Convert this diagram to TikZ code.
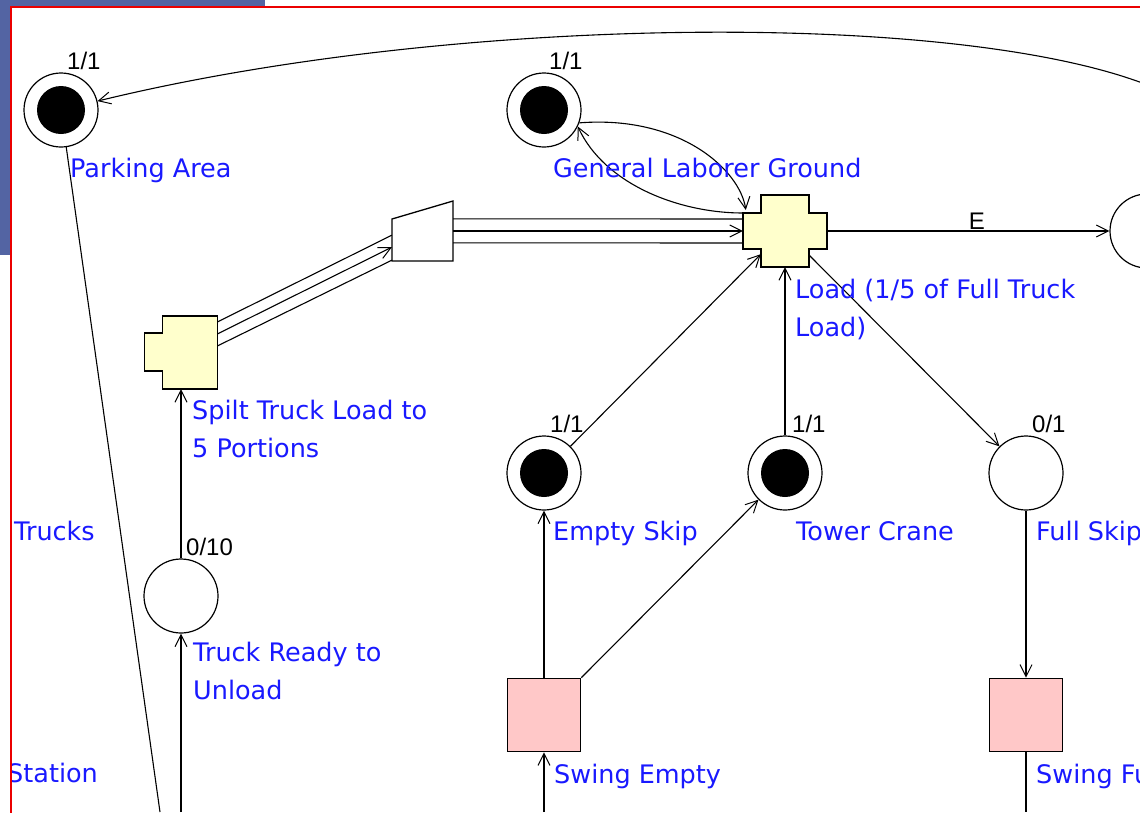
\documentclass[tikz,border=0pt]{standalone}
\usepackage{fontspec}
\setmainfont{DejaVu Sans}
\newfontfamily\numfont{Liberation Sans}
\usetikzlibrary{arrows.meta,calc}
\definecolor{lblblue}{RGB}{25,25,255}
\definecolor{bgblue}{RGB}{83,100,163}
\definecolor{tyellow}{RGB}{255,255,204}
\definecolor{tpink}{RGB}{255,200,200}
\definecolor{framered}{RGB}{235,0,0}
\begin{document}
\begin{tikzpicture}[x=1pt,y=-1pt,
  place/.style={circle,draw,line width=1.2pt,minimum size=74pt,inner sep=0pt,fill=white},
  marked/.style={place,path picture={\fill[black] (path picture bounding box.center) circle (24pt);}},
  swing/.style={rectangle,draw,line width=1.6pt,fill=tpink,minimum size=73pt,inner sep=0pt},
  shapebox/.style={rectangle,inner sep=0pt},
  transfill/.style={draw,line width=1.6pt,fill=tyellow,line join=miter},
  arc/.style={line width=1.1pt},
  arr/.style={arc,-{Straight Barb[length=12pt,width=12pt,line width=1pt]}},
  lbl/.style={text=lblblue,font=\fontsize{25.5}{38}\selectfont,anchor=base west,inner sep=0pt,align=left},
  num/.style={font=\numfont\fontsize{24}{28}\selectfont,anchor=base west,inner sep=0pt}]
\useasboundingbox (0,0) rectangle (1140,812);
\fill[bgblue] (0,0) rectangle (265,255);
\fill[white] (11,7) rectangle (1150,820);
\begin{scope}
\clip (11,7) rectangle (1140,812);
% places
\node[marked] (park) at (61,110) {};
\node[marked] (glg) at (544,110) {};
\node[marked] (eskip) at (544,473) {};
\node[marked] (tcrane) at (785,473) {};
\node[place] (fskip) at (1026,473) {};
\node[place] (tready) at (181,596) {};
\node[place] (eplace) at (1147,231) {};
% transitions
\node[swing] (sempty) at (544,715) {};
\node[swing] (sfull) at (1026,715) {};
\node[shapebox,minimum width=84pt,minimum height=72pt] (load) at (785,231) {};
\draw[transfill] (load.center) ++(-42,-18) -- ++(18,0) -- ++(0,-18) -- ++(48,0) -- ++(0,18) -- ++(18,0) -- ++(0,36) -- ++(-18,0) -- ++(0,18) -- ++(-48,0) -- ++(0,-18) -- ++(-18,0) -- cycle;
\node[shapebox,minimum width=73pt,minimum height=73pt] (split) at (181,352.5) {};
\draw[transfill] (split.center) ++(-18.5,-36.5) -- ++(55,0) -- ++(0,73) -- ++(-55,0) -- ++(0,-18) -- ++(-18,0) -- ++(0,-38) -- ++(18,0) -- cycle;
\node[shapebox,minimum width=61pt,minimum height=60pt] (funnel) at (422.5,231) {};
\draw[draw,line width=1.3pt,fill=white] (funnel.center) ++(-30.5,-12) -- ++(61,-18) -- ++(0,60) -- ++(-61,0) -- cycle;
% free ends
\coordinate (arcR) at (1145,84);
\coordinate (parkB) at (160,812);
\coordinate (truckB) at (181,812);
\coordinate (seB) at (544,812);
\coordinate (sfB) at (1026,812);
% connectors
\draw[arr] (arcR) .. controls (950,10) and (450,15) .. (park);
\draw[arc] (park) -- (parkB);
\draw[arr] (glg.-20) .. controls (680,115) and (740,170) .. ($(load.west)+(3,-21)$);
\draw[arr] ($(load.west)+(0,-18)$) .. controls (680,213) and (605,185) .. (glg.-26);
\draw[arc] ($(funnel.north east)+(0,18)$) -- ($(load.west)+(0,-12)$);
\draw[arr] (funnel.east) -- (load.west);
\draw[arc] ($(funnel.north east)+(0,42)$) -- ($(load.west)+(0,12)$);
\draw[arc] ($(split.north east)+(0,6)$) -- ($(funnel.south west)+(0,-26)$);
\draw[arr] ($(split.north east)+(0,18)$) -- ($(funnel.south west)+(0,-14)$);
\draw[arc] ($(split.north east)+(0,30)$) -- ($(funnel.south west)+(0,-1)$);
\draw[arr] (truckB) -- (tready);
\draw[arr] (tready) -- (split.south);
\draw[arr] (load.east) -- (eplace) node[pos=0.5,anchor=base west,yshift=2pt,inner sep=0pt,font=\numfont\fontsize{24}{28}\selectfont] (elbl) {E};
\draw[arr] (eskip) -- ($(load.south west)+(18,-13)$);
\draw[arr] (tcrane) -- (load.south);
\draw[arr] ($(load.south east)+(-18,-12)$) -- (fskip);
\draw[arr] (sempty.north) -- (eskip);
\draw[arr] (sempty.north east) -- (tcrane);
\draw[arr] (seB) -- (sempty.south);
\draw[arr] (fskip) -- (sfull.north);
\draw[arc] (sfull.south) -- (sfB);
% labels
\node[num] (parkN) at (67,69) {1/1};
\node[num] (glgN) at (549,69) {1/1};
\node[num] (eskipN) at (550,432) {1/1};
\node[num] (tcraneN) at (792,432) {1/1};
\node[num] (fskipN) at (1032,432) {0/1};
\node[num] (treadyN) at (186,555) {0/10};
\node[lbl] (parkL) at (70,177) {Parking Area};
\node[lbl] (glgL) at (553,177) {General Laborer Ground};
\node[lbl] (loadL) at (795,336) {Load (1/5 of Full Truck\\Load)};
\node[lbl] (splitL) at (192,457) {Spilt Truck Load to\\5 Portions};
\node[lbl] (trucksL) at (14,540) {Trucks};
\node[lbl] (treadyL) at (193,699) {Truck Ready to\\Unload};
\node[lbl] (stationL) at (7,782) {Station};
\node[lbl] (eskipL) at (553,540) {Empty Skip};
\node[lbl] (tcraneL) at (796,540) {Tower Crane};
\node[lbl] (fskipL) at (1036,540) {Full Skip};
\node[lbl] (semptyL) at (554,783) {Swing Empty};
\node[lbl] (sfullL) at (1036,783) {Swing Full};
\end{scope}
\draw[framered,line width=2pt] (1150,7) -- (11,7) -- (11,820);
\end{tikzpicture}
\end{document}
